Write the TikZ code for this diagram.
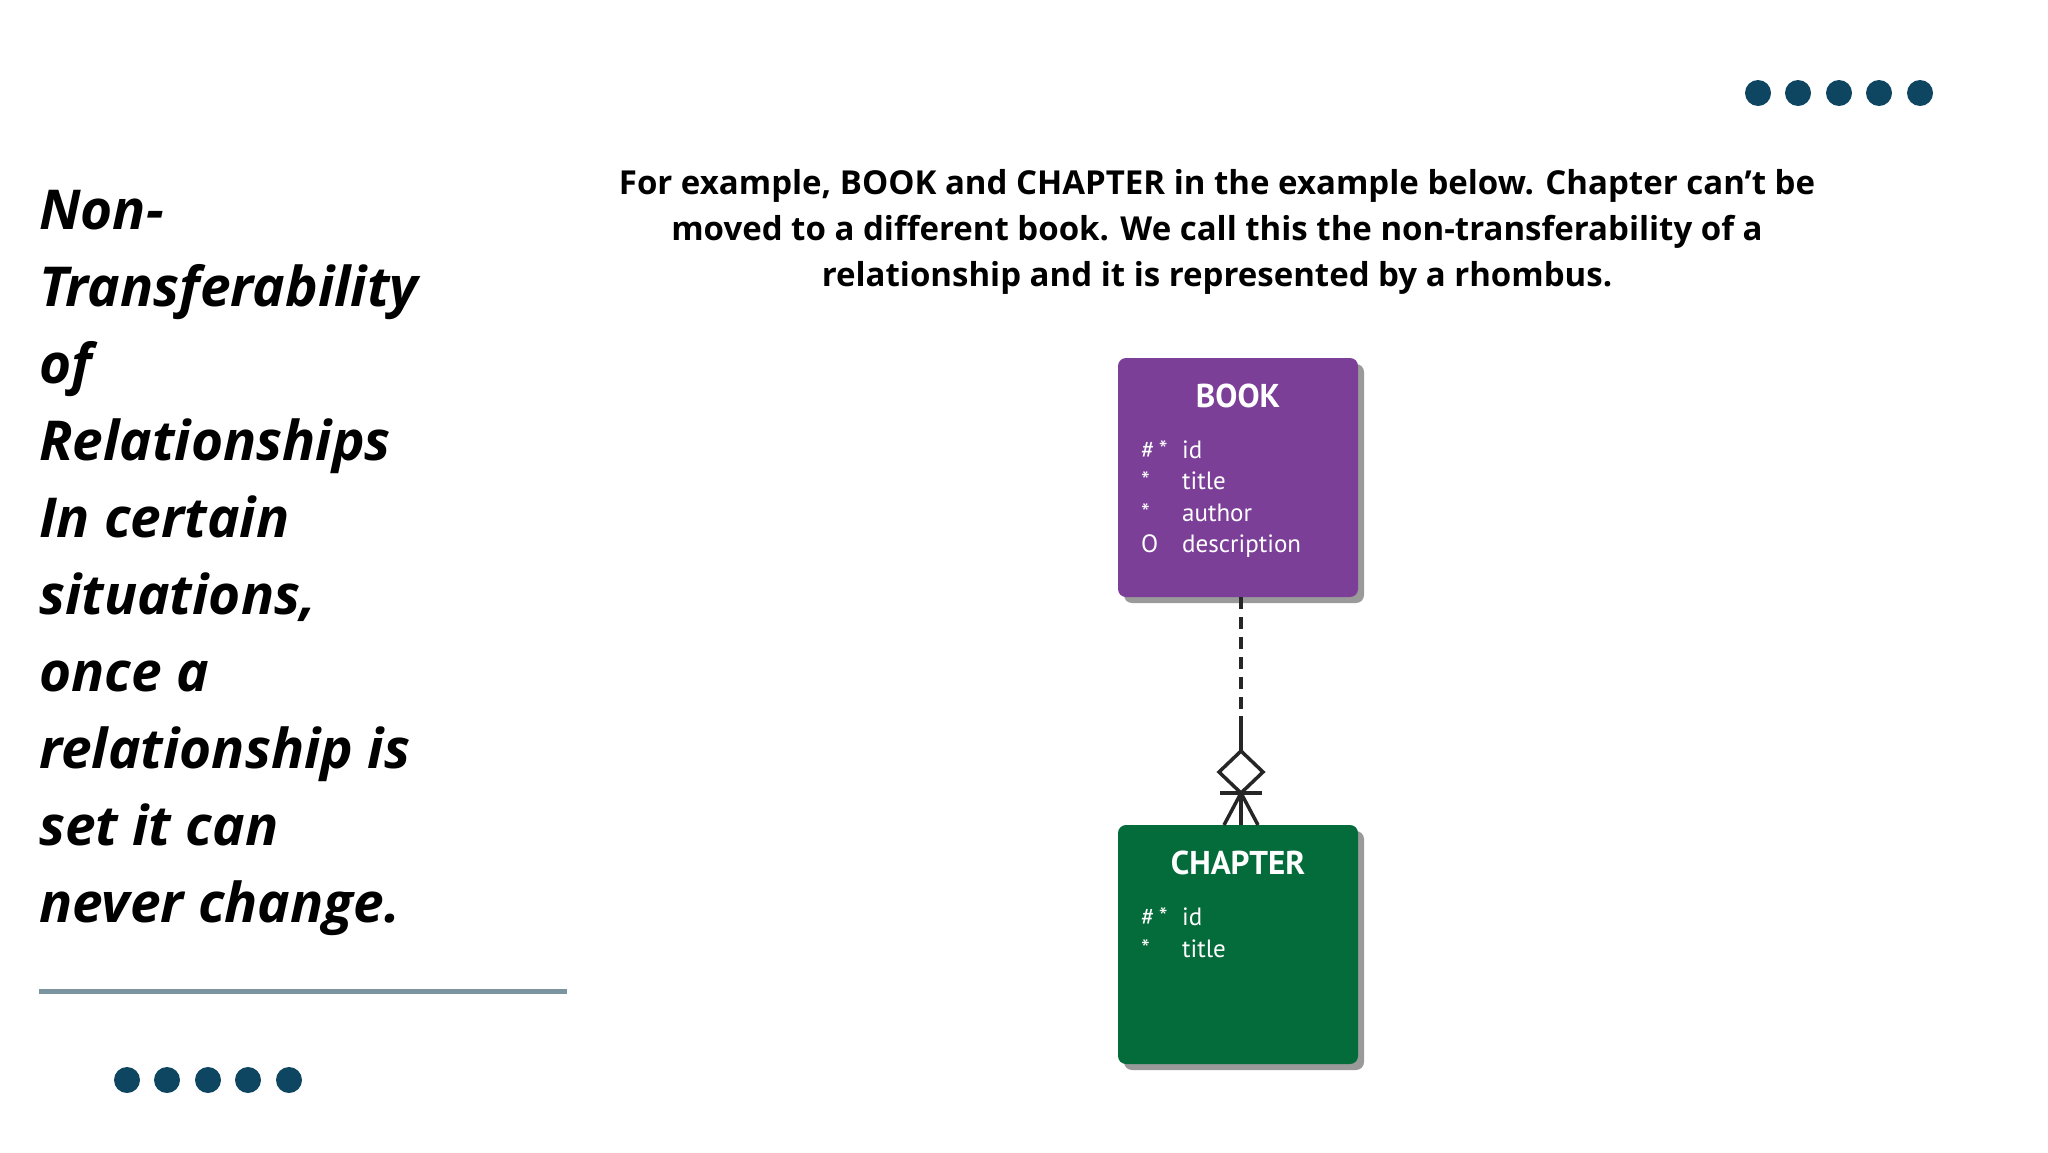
\documentclass[tikz,border=0pt]{standalone}
\usepackage{fontspec}
\setmainfont{Open Sans}
\newfontfamily\erfont{PT Sans}
\definecolor{dotc}{HTML}{0E4560}
\definecolor{rulec}{HTML}{7A959F}
\definecolor{bookc}{HTML}{7B3F98}
\definecolor{chapc}{HTML}{046B3A}
\definecolor{shad}{HTML}{9A9A9A}
\tikzset{
  dotn/.style={circle,fill=dotc,minimum size=26pt,inner sep=0pt},
  titleline/.style={anchor=base west,font=\fontsize{55}{60}\selectfont\bfseries\itshape,inner sep=0pt},
  paraline/.style={anchor=base,font=\fontsize{33}{38}\selectfont\bfseries,inner sep=0pt},
  ent/.style={rounded corners=8pt},
  enttitle/.style={anchor=base,font=\erfont\fontsize{33}{36}\selectfont\bfseries,text=white,inner sep=0pt},
  attr/.style={anchor=base west,font=\erfont\fontsize{25}{28}\selectfont,text=white,inner sep=0pt},
  conn/.style={line width=3.5pt,black!85}
}
\begin{document}
\begin{tikzpicture}[x=1pt,y=-1pt]
\useasboundingbox (0,0) rectangle (2048,1152);
% dots
\foreach \i/\x in {1/1758,2/1798,3/1839,4/1879,5/1920} \node[dotn] (t\i) at (\x,93) {};
\foreach \i/\x in {1/127,2/167,3/208,4/248,5/289} \node[dotn] (b\i) at (\x,1080) {};
\draw[rulec,line width=5pt] (39,991) -- (567,991);
% title
\foreach \t [count=\k from 0] in {Non-,Transferability,of,Relationships,In certain,{situations,},once a,relationship is,set it can,never change.}
  \node[titleline] (h\k) at (39,{229+77*\k}) {\t};
% paragraph
\node[paraline] (p1) at (1217,194) {For example, BOOK and CHAPTER in the example below. Chapter can’t be};
\node[paraline] (p2) at (1217,240) {moved to a different book. We call this the non-transferability of a};
\node[paraline] (p3) at (1217,286) {relationship and it is represented by a rhombus.};
% entities
\fill[shad,ent] (1124,364) rectangle (1364,603);
\fill[bookc,ent] (1118,358) rectangle (1358,597);
\coordinate (bookbot) at (1241,597);
\node[enttitle] (bt) at (1238,407) {BOOK};
\node[attr] (ba1s) at (1141,458) {\#\,*}; \node[attr] (ba1) at (1182,458) {id};
\node[attr] (ba2s) at (1141,489) {*}; \node[attr] (ba2) at (1182,489) {title};
\node[attr] (ba3s) at (1141,521) {*}; \node[attr] (ba3) at (1182,521) {author};
\node[attr] (ba4s) at (1141,552) {O}; \node[attr] (ba4) at (1182,552) {description};
\fill[shad,ent] (1124,831) rectangle (1364,1070);
\fill[chapc,ent] (1118,825) rectangle (1358,1064);
\coordinate (chaptop) at (1241,825);
\node[enttitle] (ct) at (1238,874) {CHAPTER};
\node[attr] (ca1s) at (1141,925) {\#\,*}; \node[attr] (ca1) at (1182,925) {id};
\node[attr] (ca2s) at (1141,957) {*}; \node[attr] (ca2) at (1182,957) {title};
% connector
\coordinate (m) at (1241,716);
\coordinate (dt) at (1241,751);
\coordinate (db) at (1241,793);
\draw[conn,dash pattern=on 12pt off 8pt] (bookbot) -- (m);
\draw[conn] (m) -- (dt);
\draw[conn,line join=miter] (dt) -- (1263,772) -- (db) -- (1219,772) -- cycle;
\draw[conn] (db) -- (chaptop);
\draw[conn] (1220,793) -- (1262,793);
\draw[conn] (db) -- (1224,825);
\draw[conn] (db) -- (1258,825);
\end{tikzpicture}
\end{document}
